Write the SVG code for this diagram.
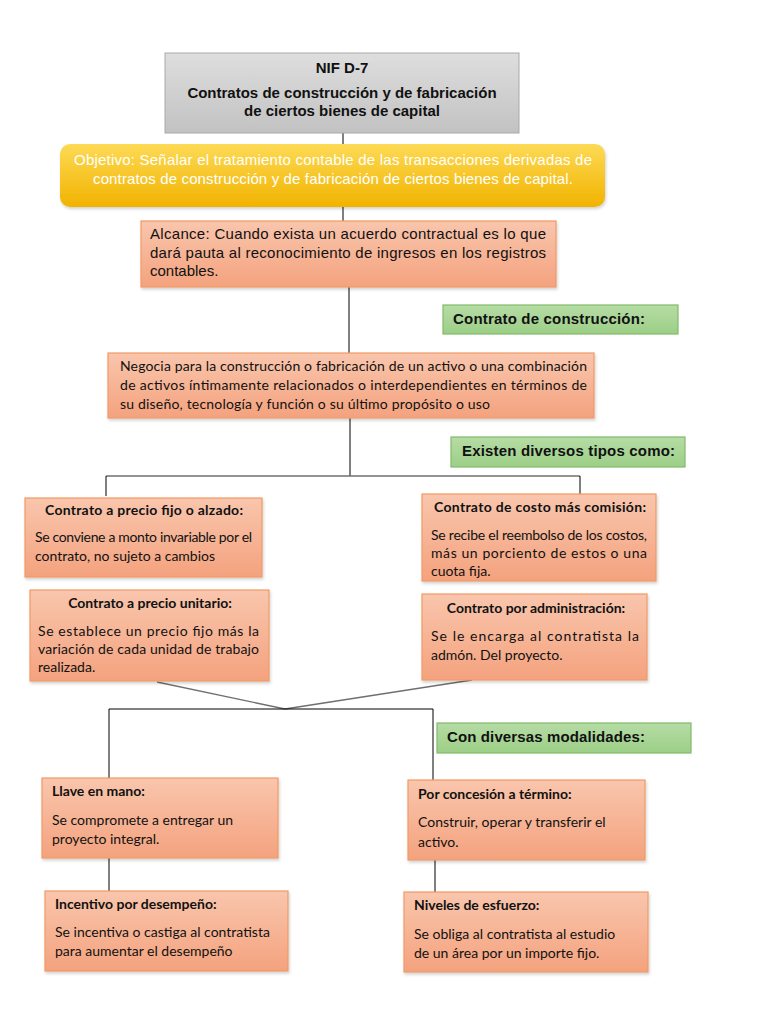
<svg xmlns="http://www.w3.org/2000/svg" width="768" height="1024" viewBox="0 0 768 1024">
<defs>
<linearGradient id="gGray" x1="0" y1="0" x2="0" y2="1"><stop offset="0" stop-color="#dedede"/><stop offset="1" stop-color="#c2c2c2"/></linearGradient>
<linearGradient id="gGold" x1="0" y1="0" x2="0" y2="1"><stop offset="0" stop-color="#fdda55"/><stop offset="1" stop-color="#f1b300"/></linearGradient>
<linearGradient id="gSal" x1="0" y1="0" x2="0" y2="1"><stop offset="0" stop-color="#f9c6ad"/><stop offset="1" stop-color="#f4a27e"/></linearGradient>
<linearGradient id="gGreen" x1="0" y1="0" x2="0" y2="1"><stop offset="0" stop-color="#b6dca5"/><stop offset="1" stop-color="#9ccf87"/></linearGradient>
<filter id="sh" x="-5%" y="-10%" width="110%" height="125%"><feDropShadow dx="1" dy="2" stdDeviation="1.5" flood-color="#000" flood-opacity="0.18"/></filter>
</defs>
<style>
.gray{fill:url(#gGray);stroke:#a9a9a9;stroke-width:1}
.gold{fill:url(#gGold);stroke:none}
.sal{fill:url(#gSal);stroke:#f09a66;stroke-width:1.2}
.green{fill:url(#gGreen);stroke:#80bb68;stroke-width:1.2}
.ar{font-family:"Liberation Sans",Arial,sans-serif;fill:#111}
.arb{font-family:"Liberation Sans",Arial,sans-serif;font-weight:bold;fill:#111}
.cal{font-family:Lato,"Open Sans",sans-serif;font-size:14px;fill:#111}
.calb{font-family:Lato,"Open Sans",sans-serif;font-size:14px;font-weight:bold;fill:#111}
.wh{font-family:"Liberation Sans",Arial,sans-serif;font-size:15px;fill:#fff}
.ln{stroke:#000;stroke-width:1;fill:none}
.lg{stroke:#6f6f6f;stroke-width:1.3;fill:none}
</style>
<rect width="768" height="1024" fill="#fff"/>

<g id="connectors">
<line class="ln" x1="343" y1="133" x2="343" y2="145"/>
<line class="ln" x1="343" y1="207" x2="343" y2="221"/>
<line class="ln" x1="349" y1="287" x2="349" y2="354"/>
<line class="ln" x1="350" y1="418" x2="350" y2="476"/>
<line class="lg" x1="106" y1="476" x2="580" y2="476"/>
<line class="ln" x1="106" y1="476" x2="106" y2="496"/>
<line class="ln" x1="580" y1="476" x2="580" y2="494"/>
<line class="lg" x1="157" y1="682" x2="285" y2="709"/>
<line class="lg" x1="472" y1="680" x2="285" y2="709"/>
<line class="ln" x1="109" y1="709" x2="433" y2="709"/>
<line class="ln" x1="109" y1="709" x2="109" y2="778"/>
<line class="ln" x1="433" y1="709" x2="433" y2="780"/>
<line class="ln" x1="109" y1="858" x2="109" y2="891"/>
<line class="ln" x1="435" y1="860" x2="435" y2="892"/>
</g>

<g id="titulo">
<rect class="gray" x="165" y="53" width="354" height="80"/>
<text class="arb" x="342" y="73" font-size="15" text-anchor="middle">NIF D-7</text>
<text class="arb" x="342" y="98" font-size="15" text-anchor="middle">Contratos de construcción y de fabricación</text>
<text class="arb" x="342" y="116" font-size="15" text-anchor="middle">de ciertos bienes de capital</text>
</g>

<g id="objetivo">
<rect class="gold" x="60" y="144" width="545" height="63" rx="10" filter="url(#sh)"/>
<text class="wh" x="333" y="165" text-anchor="middle" textLength="518">Objetivo: Señalar el tratamiento contable de las transacciones derivadas de</text>
<text class="wh" x="333" y="184" text-anchor="middle" textLength="480">contratos de construcción y de fabricación de ciertos bienes de capital.</text>
</g>

<g id="alcance">
<rect class="sal" x="141" y="221" width="415" height="66" filter="url(#sh)"/>
<text class="ar" x="150" y="239" font-size="15" textLength="396">Alcance: Cuando exista un acuerdo contractual es lo que</text>
<text class="ar" x="150" y="258" font-size="15" textLength="396">dará pauta al reconocimiento de ingresos en los registros</text>
<text class="ar" x="150" y="276" font-size="15">contables.</text>
</g>

<g id="lbl-construccion">
<rect class="green" x="443" y="305" width="235" height="29"/>
<text class="arb" x="453" y="324" font-size="15" textLength="192">Contrato de construcción:</text>
</g>

<g id="negocia">
<rect class="sal" x="108" y="353" width="486" height="65" filter="url(#sh)"/>
<text class="cal" x="120" y="371" textLength="467">Negocia para la construcción o fabricación de un activo o una combinación</text>
<text class="cal" x="120" y="390" textLength="467">de activos íntimamente relacionados o interdependientes en términos de</text>
<text class="cal" x="120" y="409" textLength="370">su diseño, tecnología y función o su último propósito o uso</text>
</g>

<g id="lbl-tipos">
<rect class="green" x="451" y="437" width="234" height="30"/>
<text class="arb" x="462" y="456" font-size="15" textLength="213">Existen diversos tipos como:</text>
</g>

<g id="precio-fijo">
<rect class="sal" x="25" y="498" width="237" height="79" filter="url(#sh)"/>
<text class="calb" x="144" y="515" text-anchor="middle" textLength="198">Contrato a precio fijo o alzado:</text>
<text class="cal" x="35" y="542" textLength="217">Se conviene a monto invariable por el</text>
<text class="cal" x="35" y="561">contrato, no sujeto a cambios</text>
</g>

<g id="costo-comision">
<rect class="sal" x="422" y="494" width="234" height="87" filter="url(#sh)"/>
<text class="calb" x="540" y="512" text-anchor="middle" textLength="212">Contrato de costo más comisión:</text>
<text class="cal" x="431" y="540" textLength="216">Se recibe el reembolso de los costos,</text>
<text class="cal" x="431" y="558" textLength="216">más un porciento de estos o una</text>
<text class="cal" x="431" y="576">cuota fija.</text>
</g>

<g id="precio-unitario">
<rect class="sal" x="30" y="590" width="239" height="91" filter="url(#sh)"/>
<text class="calb" x="150" y="608" text-anchor="middle">Contrato a precio unitario:</text>
<text class="cal" x="38" y="636" textLength="221">Se establece un precio fijo más la</text>
<text class="cal" x="38" y="654" textLength="221">variación de cada unidad de trabajo</text>
<text class="cal" x="38" y="672">realizada.</text>
</g>

<g id="administracion">
<rect class="sal" x="422" y="594" width="225" height="86" filter="url(#sh)"/>
<text class="calb" x="536" y="613" text-anchor="middle">Contrato por administración:</text>
<text class="cal" x="431" y="641" textLength="208">Se le encarga al contratista la</text>
<text class="cal" x="431" y="660">admón. Del proyecto.</text>
</g>

<g id="lbl-modalidades">
<rect class="green" x="437" y="723" width="254" height="30"/>
<text class="arb" x="447" y="742" font-size="15" textLength="198">Con diversas modalidades:</text>
</g>

<g id="llave">
<rect class="sal" x="42" y="778" width="236" height="80" filter="url(#sh)"/>
<text class="calb" x="52" y="796">Llave en mano:</text>
<text class="cal" x="52" y="825">Se compromete a entregar un</text>
<text class="cal" x="52" y="844">proyecto integral.</text>
</g>

<g id="concesion">
<rect class="sal" x="408" y="780" width="237" height="80" filter="url(#sh)"/>
<text class="calb" x="418" y="799">Por concesión a término:</text>
<text class="cal" x="418" y="827">Construir, operar y transferir el</text>
<text class="cal" x="418" y="847">activo.</text>
</g>

<g id="incentivo">
<rect class="sal" x="45" y="891" width="243" height="80" filter="url(#sh)"/>
<text class="calb" x="55" y="909">Incentivo por desempeño:</text>
<text class="cal" x="55" y="937">Se incentiva o castiga al contratista</text>
<text class="cal" x="55" y="956">para aumentar el desempeño</text>
</g>

<g id="niveles">
<rect class="sal" x="404" y="892" width="244" height="80" filter="url(#sh)"/>
<text class="calb" x="414" y="910">Niveles de esfuerzo:</text>
<text class="cal" x="414" y="939">Se obliga al contratista al estudio</text>
<text class="cal" x="414" y="958">de un área por un importe fijo.</text>
</g>
</svg>
